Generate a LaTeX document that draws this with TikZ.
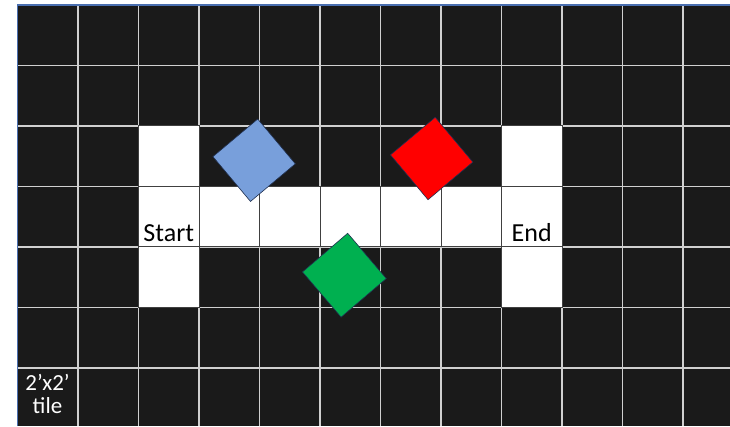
\documentclass[tikz,border=0pt]{standalone}
\usepackage{fontspec}
\setmainfont{Carlito}
\definecolor{nacht}{HTML}{1A1A1A}
\definecolor{gitterlinie}{HTML}{D0D0D0}
\definecolor{rand}{HTML}{4A6FB0}
\definecolor{kblau}{HTML}{789FDB}
\definecolor{krot}{HTML}{FF0000}
\definecolor{kgruen}{HTML}{00B050}
\definecolor{kante}{HTML}{1F2F4F}

\begin{document}
\begin{tikzpicture}[x=60.5pt, y=60.5pt,
    gitter/.style={gitterlinie, line width=1.3pt},
    feld/.style={fill=white, draw=black!75, line width=1pt},
    kachel/.style={draw=kante, line width=0.6pt, minimum size=58.5pt, inner sep=0pt},
    beschrift/.style={font=\fontsize{26}{27}\selectfont, inner sep=0pt, anchor=base}]
    \useasboundingbox (-0.2893,0.0826) rectangle (11.777,-6.959);
    % Boden
    \fill[nacht] (0,0) rectangle (11.777,-6.959);
    \foreach \i in {1,...,11} \draw[gitter] (\i,0) -- (\i,-6.959);
    \foreach \j in {1,...,6} \draw[gitter] (0,-\j) -- (11.777,-\j);
    % weisser Weg von Start bis End
    \foreach \i in {2,...,8} \draw[feld] (\i,-3) rectangle ++(1,-1);
    \foreach \i in {2,8} {
      \draw[feld] (\i,-2) rectangle ++(1,-1);
      \draw[feld] (\i,-4) rectangle ++(1,-1);
    }
    % Rand oben und links
    \draw[rand, line width=1.5pt] (0,-6.959) -- (0,0) -- (11.777,0);
    % gedrehte Kacheln
    \node[kachel, fill=kblau, rotate=40] (blau) at (3.911,-2.566) {};
    \node[kachel, fill=krot, rotate=40] (rot) at (6.845,-2.537) {};
    \node[kachel, fill=kgruen, rotate=40.5, minimum size=59.5pt] (gruen) at (5.403,-4.467) {};
    % Beschriftung
    \node[beschrift] (start) at (2.5,-3.912) {Start};
    \node[beschrift] (ende) at (8.5,-3.912) {End};
    \node[white, font=\fontsize{23}{23}\selectfont, inner sep=0pt, align=center] (massstab) at (0.496,-6.43) {2’x2’\\tile};
\end{tikzpicture}
\end{document}
